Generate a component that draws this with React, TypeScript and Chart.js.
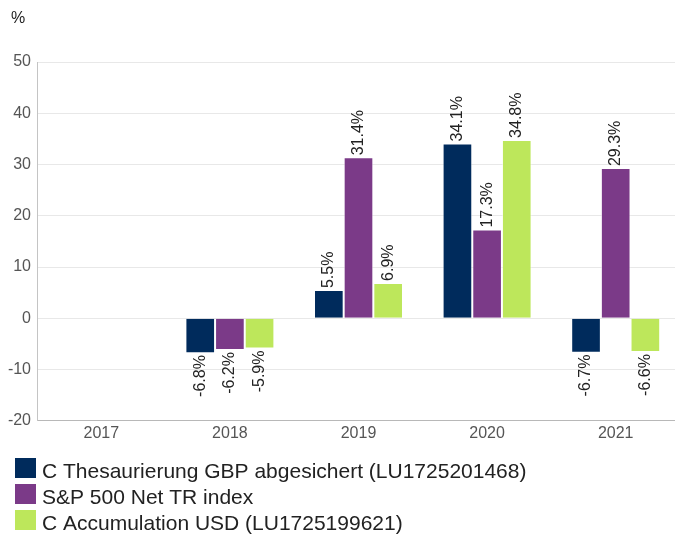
import React, { useEffect, useRef } from "react";
import { Chart, registerables } from "chart.js";

Chart.register(...registerables);

const categories = ["2017", "2018", "2019", "2020", "2021"];
const seriesNames = [
  "C Thesaurierung GBP abgesichert (LU1725201468)",
  "S&P 500 Net TR index",
  "C Accumulation USD (LU1725199621)",
];
const fundGbp: (number | null)[] = [null, -6.8, 5.5, 34.1, -6.7];
const sp500: (number | null)[] = [null, -6.2, 31.4, 17.3, 29.3];
const fundUsd: (number | null)[] = [null, -5.9, 6.9, 34.8, -6.6];
const seriesColors = ["#002b5c", "#7b3a88", "#bde75b"];
const yMin = -20;
const yMax = 50;
const yStep = 10;
const unitLabel = "%";

const FONT = '"Liberation Sans", Arial, Helvetica, sans-serif';

const valueLabels = {
  id: "valueLabels",
  afterDatasetsDraw(chart: any) {
    const ctx = chart.ctx;
    ctx.save();
    ctx.font = `16px ${FONT}`;
    ctx.fillStyle = "#222";
    chart.data.datasets.forEach((ds: any, di: number) => {
      const meta = chart.getDatasetMeta(di);
      meta.data.forEach((bar: any, i: number) => {
        const v = ds.data[i];
        if (v == null) return;
        ctx.save();
        ctx.translate(bar.x, bar.y);
        ctx.rotate(-Math.PI / 2);
        ctx.textBaseline = "middle";
        const txt = v.toFixed(1) + "%";
        if (v >= 0) {
          ctx.textAlign = "left";
          ctx.fillText(txt, 2, 0);
        } else {
          ctx.textAlign = "right";
          ctx.fillText(txt, -2, 0);
        }
        ctx.restore();
      });
    });
    ctx.restore();
  },
};

const unitAndLegend = {
  id: "unitAndLegend",
  afterDraw(chart: any) {
    const ctx = chart.ctx;
    ctx.save();
    ctx.textBaseline = "alphabetic";
    ctx.textAlign = "left";
    ctx.fillStyle = "#222";
    ctx.font = `16px ${FONT}`;
    ctx.fillText(unitLabel, 11, 23);
    ctx.font = `21px ${FONT}`;
    chart.data.datasets.forEach((ds: any, i: number) => {
      const top = 458 + i * 26;
      ctx.fillStyle = ds.backgroundColor;
      ctx.fillRect(15, top, 21, 20);
      ctx.fillStyle = "#222";
      ctx.fillText(ds.label, 42, top + 20);
    });
    ctx.restore();
  },
};

export default function App() {
  const ref = useRef<HTMLCanvasElement | null>(null);

  useEffect(() => {
    if (!ref.current) return;
    const seriesValues = [fundGbp, sp500, fundUsd];
    const chart = new Chart(ref.current, {
      type: "bar",
      data: {
        labels: categories,
        datasets: seriesValues.map((vals, i) => ({
          label: seriesNames[i],
          data: vals,
          backgroundColor: seriesColors[i],
          borderColor: "rgba(255,255,255,0.55)",
          borderWidth: 1,
          categoryPercentage: 0.692,
          barPercentage: 1,
        })),
      },
      options: {
        responsive: false,
        animation: false,
        devicePixelRatio: 1,
        layout: { padding: { left: 0, right: 0, top: 62, bottom: 88 } },
        plugins: {
          legend: { display: false },
          tooltip: { enabled: false },
          title: { display: false },
        },
        scales: {
          x: {
            offset: true,
            grid: { display: false, drawTicks: false },
            border: { display: true, color: "#b8b8b8", width: 1 },
            ticks: {
              color: "#555",
              font: { family: FONT, size: 16 },
              padding: 3,
            },
          },
          y: {
            min: yMin,
            max: yMax,
            afterFit: (scale: any) => {
              scale.width = 37;
            },
            grid: { color: "#e8e8e8", drawTicks: false },
            border: { display: true, color: "#c4c4c4", width: 1 },
            ticks: {
              stepSize: yStep,
              color: "#555",
              font: { family: FONT, size: 16 },
              padding: 6,
            },
          },
        },
      },
      plugins: [valueLabels, unitAndLegend],
    });
    return () => chart.destroy();
  }, []);

  return (
    <div
      style={{
        position: "absolute",
        left: 0,
        top: 0,
        width: 675,
        height: 534,
        overflow: "hidden",
        background: "#fff",
      }}
    >
      <canvas ref={ref} width={680} height={534} style={{ display: "block" }} />
    </div>
  );
}
